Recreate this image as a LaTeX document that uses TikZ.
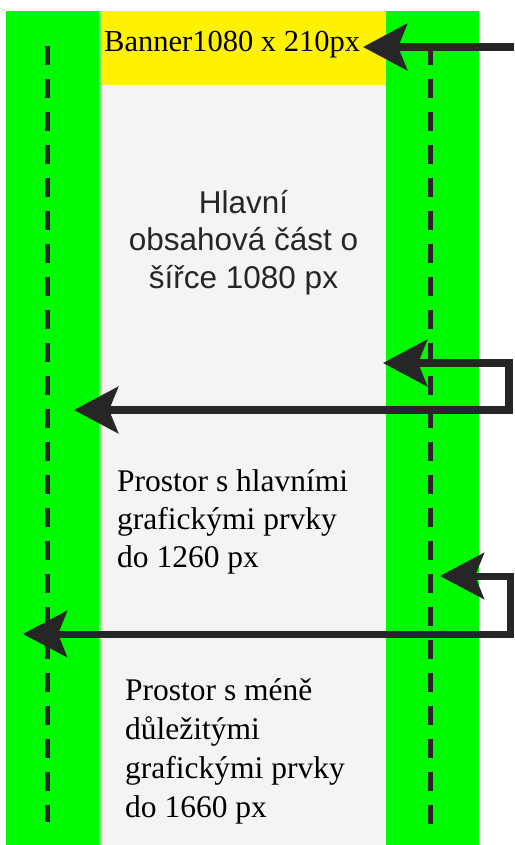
\documentclass[tikz,border=0pt]{standalone}
\usepackage{fontspec}
\setmainfont{Liberation Serif}
\setsansfont{Liberation Sans}
\usetikzlibrary{arrows.meta}

\definecolor{stripgreen}{RGB}{0,250,0}
\definecolor{edgegreen}{RGB}{120,250,110}
\definecolor{bannery}{RGB}{255,242,0}
\definecolor{panelgray}{RGB}{245,244,242}
\definecolor{inkdark}{RGB}{38,38,38}

\tikzset{
  guide/.style={draw=inkdark, line width=5pt, dash pattern=on 19pt off 14pt},
  pointer/.style={draw=inkdark, line width=8pt, line join=miter,
    -{Stealth[length=44pt,width=46pt,inset=9pt]}},
  twoway/.style={pointer, {Stealth[length=44pt,width=46pt,inset=9pt]}-{Stealth[length=44pt,width=46pt,inset=9pt]}},
  serif text/.style={inner sep=0, anchor=base west, align=left, text=black,
    font=\fontsize{31.5}{38}\selectfont}
}

\begin{document}
\begin{tikzpicture}[x=1pt,y=-1pt]
\useasboundingbox (0,0) rectangle (514,845);

\fill[white] (0,0) rectangle (514,845);
\fill[stripgreen] (6,11) rectangle (99,845);
\fill[edgegreen] (99,11) rectangle (101,845);
\fill[panelgray] (101,85) rectangle (386,845);
\fill[bannery] (101,11) rectangle (386,85);
\fill[stripgreen] (386,11) rectangle (479,845);

\coordinate (lefttop) at (47,46);
\coordinate (leftbot) at (47,822);
\coordinate (righttop) at (430,46);
\coordinate (rightbot) at (430,825);
\path[guide] (lefttop) -- (leftbot);
\path[guide] (righttop) -- (rightbot);

\node[inner sep=0, anchor=base west, font=\fontsize{30.5}{36}\selectfont] at (104,52) (banner) {Banner1080 x 210px};
\node[inner sep=0, anchor=base, align=center, text=inkdark, font=\sffamily\fontsize{31.5}{37.5}\selectfont] at (243.5,288) (main) {Hlavní\\obsahová část o\\šířce 1080 px};
\node[serif text] at (117,567) (major) {Prostor s hlavními\\grafickými prvky\\do 1260 px};
\node[serif text, font=\fontsize{31.5}{38.7}\selectfont] at (125,817) (minor) {Prostor s méně\\důležitými\\grafickými prvky\\do 1660 px};

\coordinate (bannerin) at (514,47);
\coordinate (bannertip) at (363,47);
\path[pointer] (bannerin) -- (bannertip);

\coordinate (maintip) at (383,363);
\coordinate (maincorner) at (509,363);
\coordinate (maindown) at (509,410);
\coordinate (majortip) at (74,410);
\path[twoway] (maintip) -- (maincorner) -- (maindown) -- (majortip);

\coordinate (majorback) at (440,576);
\coordinate (majorcorner) at (510,576);
\coordinate (majordown) at (510,634);
\coordinate (minortip) at (23,634);
\path[twoway, line width=7pt] (majorback) -- (majorcorner) -- (majordown) -- (minortip);

\end{tikzpicture}
\end{document}
